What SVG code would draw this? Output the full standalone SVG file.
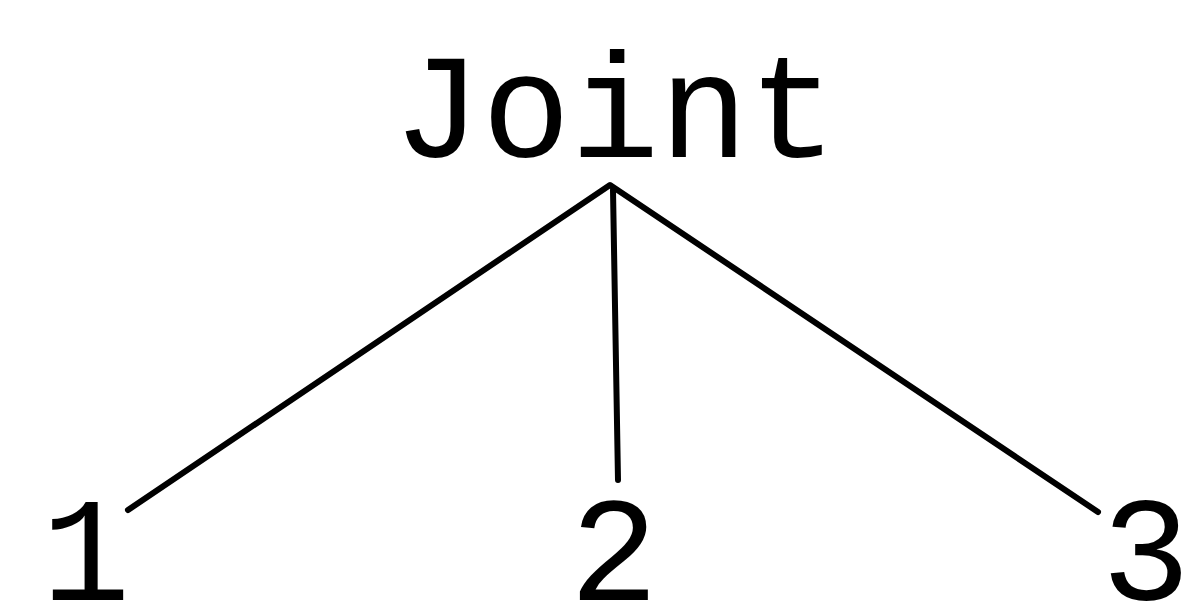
<svg xmlns="http://www.w3.org/2000/svg" width="1189" height="601" viewBox="0 0 1189 601">
<style>
text{font-family:"Liberation Mono","Courier New",monospace;font-size:148px;fill:#000;text-anchor:middle}
.e{stroke:#000;stroke-width:6;fill:none;stroke-linecap:round;stroke-linejoin:round}
</style>
<rect width="1189" height="601" fill="#fff"/>
<g id="edges">
<path class="e" d="M128,510 L610,185 L1098,512"/>
<path class="e" d="M613,190 L618,480"/>
</g>
<g id="joint"><text x="615" y="157">Joint</text></g>
<g id="n1"><text x="86" y="600">1</text></g>
<g id="n2"><text x="614" y="600">2</text></g>
<g id="n3"><text x="1146" y="600">3</text></g>
</svg>
